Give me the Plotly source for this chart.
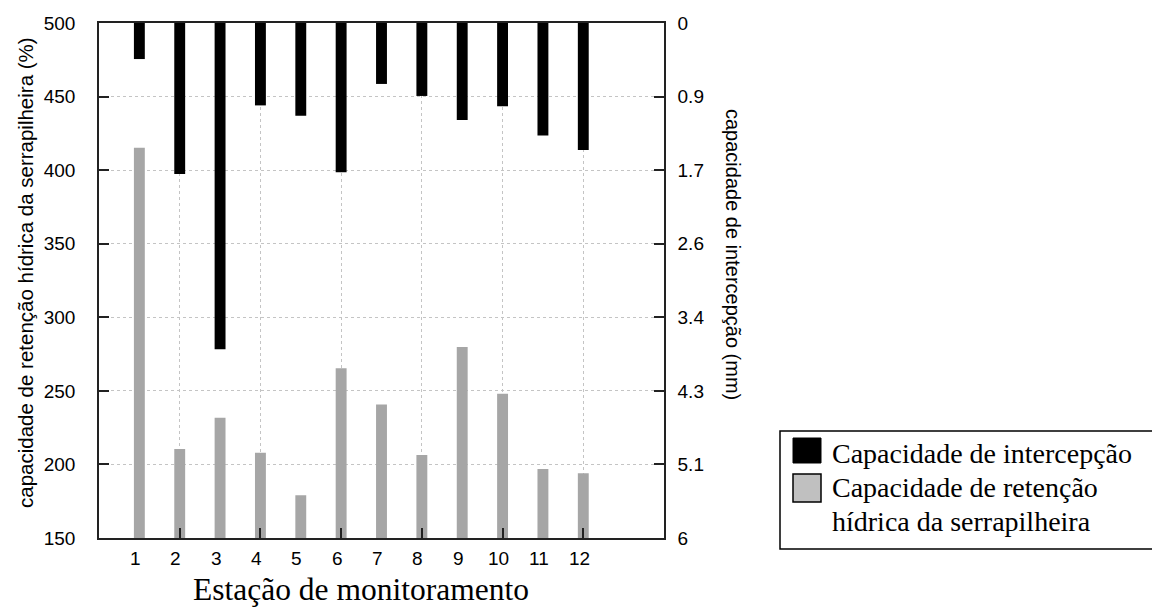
import plotly.graph_objects as go

# Monitoring stations
stations = [1, 2, 3, 4, 5, 6, 7, 8, 9, 10, 11, 12]
station_labels = [str(s) for s in stations]

# Litter water-retention capacity (%) - left axis
retencao = [415.3, 210.5, 231.8, 208.0, 179.0, 265.3, 240.8, 206.4, 279.8, 248.1, 196.9, 194.0]

# Interception capacity (mm) - right axis, reversed
intercepcao = [0.42, 1.76, 3.80, 0.96, 1.08, 1.74, 0.71, 0.85, 1.13, 0.97, 1.31, 1.48]

# Right-axis ticks sit on the same lines as the left ones (150..500 step 50 -> 6..0)
right_max = 6
right_ticktext = ["0", "0.9", "1.7", "2.6", "3.4", "4.3", "5.1", "6"]
right_tickvals = [right_max * i / 7 for i in range(8)]

SANS = "Arial, Liberation Sans, sans-serif"
SERIF = "Times New Roman, Liberation Serif, serif"
AXIS = "#222222"
GRID = "#c4c4c4"

# plot area in pixels
W, H = 1152, 607
L, R, T, B = 99, 664, 23, 538


def px(x):
    return (x - L) / (R - L)


def py(y):
    return (B - y) / (B - T)


fig = go.Figure()

fig.add_trace(go.Bar(
    x=stations, y=retencao, width=0.27,
    marker=dict(color="#a6a6a6", line=dict(width=0)),
    name="Capacidade de retenção hídrica da serrapilheira",
    xaxis="x", yaxis="y", showlegend=False,
))
fig.add_trace(go.Bar(
    x=stations, y=intercepcao, width=0.27,
    marker=dict(color="#000000", line=dict(width=0)),
    name="Capacidade de intercepção",
    xaxis="x", yaxis="y2", showlegend=False,
))

fig.update_layout(
    width=W, height=H,
    margin=dict(l=L, r=W - R, t=T, b=H - B),
    paper_bgcolor="white", plot_bgcolor="white",
    barmode="overlay",
    font=dict(family=SANS, size=19, color="#000"),
    xaxis=dict(
        range=[0, 14], tickvals=stations[1::2], showticklabels=False,
        ticks="inside", ticklen=10, tickwidth=1.5, tickcolor=AXIS,
        showgrid=True, gridcolor=GRID, griddash="dot", gridwidth=1,
        showline=True, linecolor=AXIS, linewidth=1.5, mirror=True,
        zeroline=False,
    ),
    yaxis=dict(
        range=[150, 500], dtick=50, tick0=150,
        ticks="inside", ticklen=10, tickwidth=1.5, tickcolor=AXIS,
        showgrid=True, gridcolor=GRID, griddash="dot", gridwidth=1,
        showline=True, linecolor=AXIS, linewidth=1.5,
        zeroline=False, ticklabelstandoff=18,
        tickfont=dict(family=SANS, size=19),
    ),
    yaxis2=dict(
        overlaying="y", side="right", range=[right_max, 0],
        tickvals=right_tickvals, ticktext=right_ticktext,
        ticks="inside", ticklen=10, tickwidth=1.5, tickcolor=AXIS,
        showgrid=False, showline=True, linecolor=AXIS, linewidth=1.5,
        zeroline=False, ticklabelstandoff=8,
        tickfont=dict(family=SANS, size=19),
    ),
)

# Station labels along the bottom axis
for s, lab in zip(stations, station_labels):
    fig.add_annotation(
        text=lab, xref="x", yref="paper", x=s, y=py(558), xshift=-4,
        xanchor="center", yanchor="middle", showarrow=False,
        font=dict(family=SANS, size=19, color="#000"),
    )

# Axis titles
fig.add_annotation(
    text="Estação de monitoramento", xref="paper", yref="paper",
    x=px(361), y=py(589), xanchor="center", yanchor="middle",
    showarrow=False, font=dict(family=SERIF, size=31.5, color="#000"),
)
fig.add_annotation(
    text="capacidade de retenção hídrica da serrapilheira (%)",
    xref="paper", yref="paper", x=px(25), y=py(273),
    xanchor="center", yanchor="middle", textangle=-90,
    showarrow=False, font=dict(family=SANS, size=20.5, color="#000"),
)
fig.add_annotation(
    text="capacidade de intercepção (mm)",
    xref="paper", yref="paper", x=px(733), y=py(254),
    xanchor="center", yanchor="middle", textangle=90,
    showarrow=False, font=dict(family=SANS, size=20, color="#000"),
)

# Legend box
fig.add_shape(type="rect", xref="paper", yref="paper",
              x0=px(780), x1=px(1170), y0=py(549), y1=py(431),
              line=dict(color="#000", width=1.5), fillcolor="white")
fig.add_shape(type="rect", xref="paper", yref="paper",
              x0=px(793), x1=px(821), y0=py(463), y1=py(438),
              line=dict(color="#000", width=1), fillcolor="#000")
fig.add_shape(type="rect", xref="paper", yref="paper",
              x0=px(793), x1=px(821), y0=py(502), y1=py(474),
              line=dict(color="#000", width=1.5), fillcolor="#c0c0c0")
legend_lines = [("Capacidade de intercepção", 453),
                ("Capacidade de retenção", 487),
                ("hídrica da serrapilheira", 521)]
for txt, yy in legend_lines:
    fig.add_annotation(
        text=txt, xref="paper", yref="paper", x=px(830), y=py(yy),
        xanchor="left", yanchor="middle", showarrow=False,
        font=dict(family=SERIF, size=28, color="#000"),
    )

fig.write_html("out.html")
